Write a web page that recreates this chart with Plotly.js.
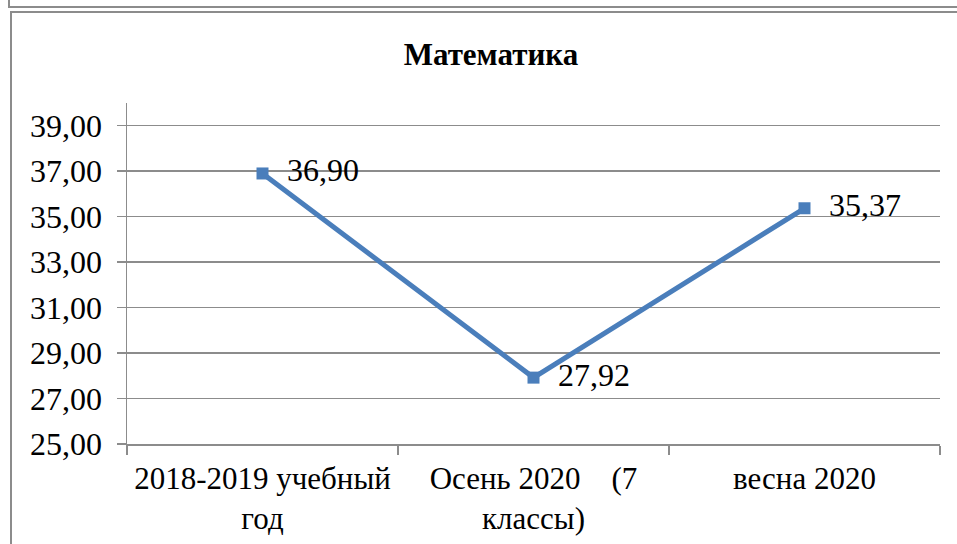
<!DOCTYPE html>
<html>
<head>
<meta charset="utf-8">
<script src="https://cdn.plot.ly/plotly-3.0.1.min.js"></script>
<style>
  html, body { margin: 0; padding: 0; background: #fff; overflow: hidden; }
  #wrap { position: relative; width: 957px; height: 544px; }
  #chart { position: absolute; left: 0; top: 0; width: 957px; height: 544px; }
  .fr { position: absolute; background: #8c8c8c; }
</style>
</head>
<body>
<div id="wrap">
  <div id="chart"></div>
  <div class="fr" style="left:8px; top:0px; width:2px; height:8px;"></div>
  <div class="fr" style="left:8px; top:6px; width:949px; height:2px;"></div>
  <div class="fr" style="left:10px; top:11px; width:947px; height:2px;"></div>
  <div class="fr" style="left:10px; top:11px; width:2px; height:533px;"></div>
</div>
<script>
const categories = [
  "2018-2019 учебный<br>год",
  "Осень 2020\u00a0\u00a0\u00a0\u00a0(7<br>классы)",
  "весна 2020"
];
const values = [36.90, 27.92, 35.37];
const yTicks = [25, 27, 29, 31, 33, 35, 37, 39];
const chartTitle = "Математика";

const serif = "'Liberation Serif', 'Times New Roman', serif";
const grid = "#8c8c8c";

const trace = {
  type: "scatter",
  mode: "lines+markers+text",
  x: categories,
  y: values,
  line: { color: "#4a7ebb", width: 5 },
  marker: { symbol: "square", size: 12, color: "#4a7ebb" },
  texttemplate: "\u00a0\u00a0%{y:.2f}",
  textposition: "middle right",
  textfont: { family: serif, size: 32, color: "#000" },
  cliponaxis: false,
  hoverinfo: "skip"
};

const layout = {
  width: 957,
  height: 544,
  margin: { l: 127, r: 17, t: 103, b: 100 },
  paper_bgcolor: "rgba(0,0,0,0)",
  plot_bgcolor: "rgba(0,0,0,0)",
  separators: ", ",
  showlegend: false,
  title: {
    text: "<b>" + chartTitle + "</b>",
    font: { family: serif, size: 31, color: "#000" },
    x: 0.513, xanchor: "center",
    y: 0.9, yanchor: "middle"
  },
  xaxis: {
    type: "category",
    tickson: "boundaries",
    ticks: "outside",
    ticklen: 9,
    tickwidth: 1.5,
    tickcolor: grid,
    tickangle: 0,
    showline: true,
    linecolor: grid,
    linewidth: 1.5,
    showgrid: false,
    zeroline: false,
    ticklabelstandoff: 6,
    tickfont: { family: serif, size: 31, color: "#000" },
    range: [-0.5, 2.5]
  },
  yaxis: {
    range: [25, 40],
    tickvals: yTicks,
    tickformat: ".2f",
    ticks: "outside",
    ticklen: 9,
    tickwidth: 1.5,
    tickcolor: grid,
    showline: true,
    linecolor: grid,
    linewidth: 1.5,
    showgrid: true,
    gridcolor: grid,
    gridwidth: 1.5,
    zeroline: false,
    ticklabelstandoff: 8,
    tickfont: { family: serif, size: 32, color: "#000" }
  }
};

Plotly.newPlot("chart", [trace], layout, { displayModeBar: false, staticPlot: true });
</script>
</body>
</html>
